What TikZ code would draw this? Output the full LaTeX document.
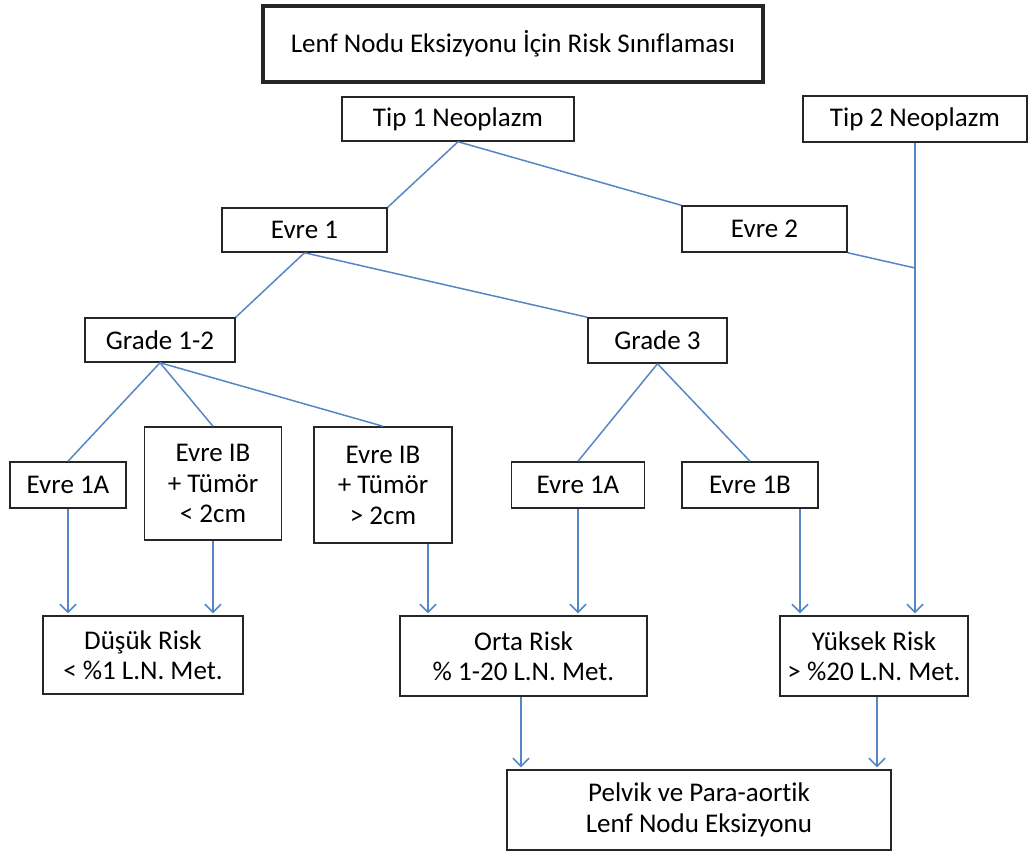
\documentclass[tikz,border=0pt]{standalone}
\usepackage{fontspec}
\setmainfont{Carlito}[Ligatures=NoCommon]
\usepackage{tikz}
\usetikzlibrary{arrows.meta}
\definecolor{linkblue}{RGB}{84,135,196}
\tikzset{
  riskbox/.style={draw=black!85, line width=1.5pt, fill=white, align=center,
    inner sep=0pt, font=\fontsize{27}{30.5}\selectfont},
  link/.style={draw=linkblue, line width=1.5pt},
  flow/.style={link, -{Straight Barb[length=8pt, width=16pt]}, shorten >=2pt}
}
\begin{document}
\begin{tikzpicture}[x=1pt, y=-1pt]
\useasboundingbox (0,0) rectangle (1029,855);
\node[riskbox, line width=4pt, minimum width=500pt, minimum height=76pt] (title) at (513,44) {Lenf Nodu Eksizyonu İçin Risk Sınıflaması};
\node[riskbox, minimum width=232pt, minimum height=44pt] (tip1) at (458,119) {Tip 1 Neoplazm};
\node[riskbox, minimum width=224pt, minimum height=46pt] (tip2) at (915,119) {Tip 2 Neoplazm};
\node[riskbox, minimum width=165pt, minimum height=44pt] (evre1) at (304.5,230) {Evre 1};
\node[riskbox, minimum width=165pt, minimum height=46pt] (evre2) at (764.5,229) {Evre 2};
\node[riskbox, minimum width=150pt, minimum height=44pt] (grade12) at (160,340) {Grade 1-2};
\node[riskbox, minimum width=139pt, minimum height=45pt] (grade3) at (657.5,340.5) {Grade 3};
\node[riskbox, minimum width=116pt, minimum height=46pt] (evre1a) at (68,485) {Evre 1A};
\node[riskbox, minimum width=137pt, minimum height=113pt] (ibsmall) at (213,483.5) {Evre IB\\+ Tümör\\< 2cm};
\node[riskbox, minimum width=138pt, minimum height=116pt] (iblarge) at (383,485) {Evre IB\\+ Tümör\\> 2cm};
\node[riskbox, minimum width=133pt, minimum height=46pt] (evre1ar) at (578,485) {Evre 1A};
\node[riskbox, minimum width=136pt, minimum height=46pt] (evre1b) at (750,485) {Evre 1B};
\node[riskbox, minimum width=200pt, minimum height=78pt] (dusuk) at (143,655) {Düşük Risk\\< \%1 L.N. Met.};
\node[riskbox, minimum width=247pt, minimum height=80pt] (orta) at (523.5,656) {Orta Risk\\\% 1-20 L.N. Met.};
\node[riskbox, minimum width=188pt, minimum height=80pt] (yuksek) at (874,656) {Yüksek Risk\\> \%20 L.N. Met.};
\node[riskbox, minimum width=384pt, minimum height=80pt] (pelvik) at (699,810) {Pelvik ve Para-aortik\\Lenf Nodu Eksizyonu};
\coordinate (join) at (915,268);

\draw[link] (tip1.south) -- (evre1.north east);
\draw[link] (tip1.south) -- (evre2.north west);
\draw[link] (evre1.south) -- (grade12.north east);
\draw[link] (evre1.south) -- (grade3.north west);
\draw[link] (grade12.south) -- (evre1a.north);
\draw[link] (grade12.south) -- (ibsmall.north);
\draw[link] (grade12.south) -- (iblarge.north);
\draw[link] (grade3.south) -- (evre1ar.north);
\draw[link] (grade3.south) -- (evre1b.north);
\draw[link] (evre2.south east) -- (join);

\draw[flow] (tip2.south) -- (tip2.south |- yuksek.north);
\draw[flow] (evre1a.south) -- (evre1a.south |- dusuk.north);
\draw[flow] (ibsmall.south) -- (ibsmall.south |- dusuk.north);
\draw[flow] ([xshift=45pt]iblarge.south) -- ([xshift=45pt]iblarge.south |- orta.north);
\draw[flow] (evre1ar.south) -- (evre1ar.south |- orta.north);
\draw[flow] ([xshift=50pt]evre1b.south) -- ([xshift=50pt]evre1b.south |- yuksek.north);
\draw[flow] ([xshift=-2.5pt]orta.south) -- ([xshift=-2.5pt]orta.south |- pelvik.north);
\draw[flow] ([xshift=3pt]yuksek.south) -- ([xshift=3pt]yuksek.south |- pelvik.north);
\end{tikzpicture}
\end{document}
